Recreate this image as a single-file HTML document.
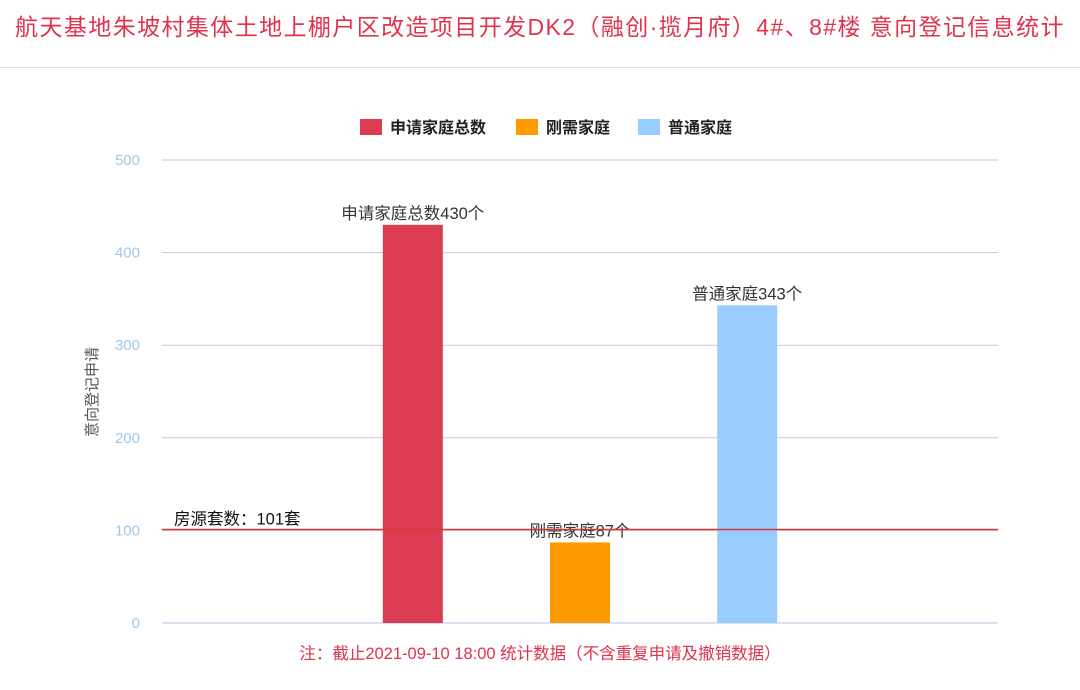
<!DOCTYPE html>
<html><head><meta charset="utf-8"><style>
body{margin:0;width:1080px;height:690px;background:#fff;font-family:"Liberation Sans","Noto Sans CJK SC",sans-serif;overflow:hidden}
#title{position:absolute;left:0;top:8px;width:1080px;text-align:center;color:#e0334e;font-size:23px;letter-spacing:1.4px;white-space:nowrap}
#sep{position:absolute;left:0;top:67px;width:1080px;height:1px;background:#e2e2e2}
svg{position:absolute;left:0;top:0}
</style></head><body>
<div id="title">航天基地朱坡村集体土地上棚户区改造项目开发DK2（融创·揽月府）4#、8#楼 意向登记信息统计</div>
<div id="sep"></div>
<svg id="chart" width="1080" height="690"></svg>
<script>
const categories=["","申请家庭总数","刚需家庭","普通家庭",""];
const values=[null,430,87,343,null];
const labels=["","申请家庭总数430个","刚需家庭87个","普通家庭343个",""];
const colors=["","#dc3c52","#ff9a00","#99ccff",""];
const yTicks=[0,100,200,300,400,500];
const refValue=101;
const refLabel="房源套数：101套";
const legendNames=["申请家庭总数","刚需家庭","普通家庭"];
const legendColors=["#dc3c52","#ff9a00","#99ccff"];

const NS="http://www.w3.org/2000/svg";
const svg=document.getElementById('chart');
const X0=162,X1=998,Y0=623,Y1=160,YMAX=500;
const y=v=>Y0-(v/YMAX)*(Y0-Y1);
const slot=(X1-X0)/categories.length;
const xc=i=>X0+slot*(i+0.5);
function mk(t,a){const e=document.createElementNS(NS,t);for(const k in a)e.setAttribute(k,a[k]);svg.appendChild(e);return e;}
yTicks.forEach(t=>{
 const l=mk('line',{x1:X0,x2:X1,y1:y(t),y2:y(t),stroke:t===0?'#b8c4e0':'#c8c8cc','stroke-width':1});
 
 
 const tx=mk('text',{x:140,y:y(t)+5,'text-anchor':'end','font-size':15,fill:'#9fc8ee'});
 tx.textContent=t;
 
 
});
const yt=mk('text',{x:0,y:0,transform:'translate(97,392) rotate(-90)','text-anchor':'middle','font-size':15,fill:'#555'});
yt.textContent='意向登记申请';


values.forEach((v,i)=>{
 if(v==null)return;
 const r=mk('rect',{x:xc(i)-30,y:y(v),width:60,height:Y0-y(v),fill:colors[i]});
 
 
 const t=mk('text',{x:xc(i),y:y(v)-6,'text-anchor':'middle','font-size':16.5,fill:'#333'});
 t.textContent=labels[i];
 
 
});
const rl=mk('line',{x1:X0,x2:X1,y1:y(refValue),y2:y(refValue),stroke:'#d23a3a','stroke-width':1.5});


const rt=mk('text',{x:174,y:y(refValue)-5,'font-size':16.5,fill:'#111'});
rt.textContent=refLabel;


let lx=[360,516,638];
legendNames.forEach((n,i)=>{
 const r=mk('rect',{x:lx[i],y:119,width:22,height:16,fill:legendColors[i]});
 
 
 const t=mk('text',{x:lx[i]+30,y:133,'font-size':16,'font-weight':'bold',fill:'#222'});
 t.textContent=n;
 
 
});
const fn=mk('text',{x:540,y:659,'text-anchor':'middle','font-size':16.5,fill:'#e0334e'});
fn.textContent='注：截止2021-09-10 18:00 统计数据（不含重复申请及撤销数据）';


</script>
</body></html>
